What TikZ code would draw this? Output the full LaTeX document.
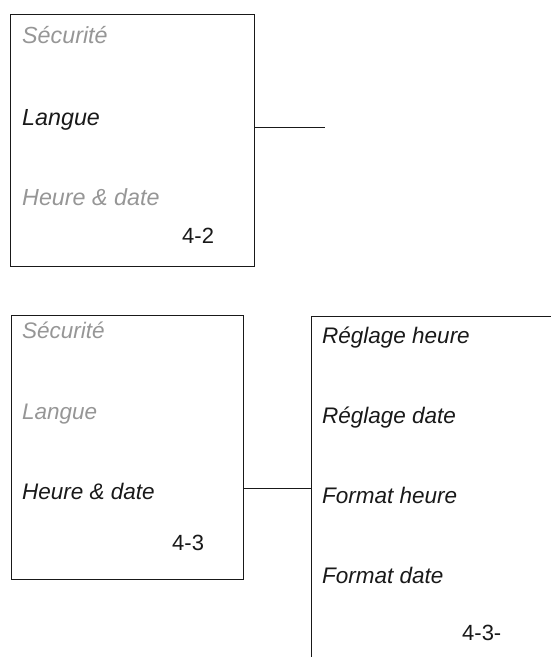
\documentclass[tikz,border=0pt]{standalone}
\usepackage{fontspec}
\setmainfont{Liberation Sans}
\definecolor{dim}{RGB}{150,150,150}
\definecolor{ink}{RGB}{25,25,25}
\tikzset{
  frame/.style={draw=ink, line width=0.9pt, inner sep=0pt},
  wire/.style={draw=ink, line width=0.9pt},
  item/.style={anchor=base west, inner sep=0pt, font=\fontsize{22.5}{27}\selectfont\itshape, text=ink},
  itemA/.style={item, font=\fontsize{23.3}{28}\selectfont\itshape},
  off/.style={text=dim},
  tag/.style={anchor=base west, inner sep=0pt, font=\fontsize{22}{26}\selectfont, text=ink}
}
\begin{document}
\begin{tikzpicture}[x=1pt,y=-1pt]
\useasboundingbox (0,0) rectangle (551,657);
% upper panel
\node[frame, minimum width=243.5pt, minimum height=252pt] (box1) at (132.25,140.5) {};
\node[itemA, off] (s1) at (22,43.5) {Sécurité};
\node[itemA] (l1) at (22,125) {Langue};
\node[itemA, off] (h1) at (22,205) {Heure \& date};
\node[tag] (n1) at (182,243.5) {4-2};
\coordinate (e1) at (325,127);
\draw[wire] (box1.east |- e1) -- (e1);
% lower panel
\node[frame, minimum width=232pt, minimum height=264pt] (box2) at (127,447) {};
\node[item, off] (s2) at (22,338) {Sécurité};
\node[item, off] (l2) at (22,419) {Langue};
\node[item] (h2) at (22,499) {Heure \& date};
\node[tag] (n2) at (172,550) {4-3};
% right (clipped) panel
\coordinate (rt) at (551,316);
\coordinate (rc) at (311,316);
\coordinate (rb) at (311,657);
\draw[wire] (rt) -- (rc) -- (rb);
\coordinate (e2) at (311,488);
\draw[wire] (box2.east |- e2) -- (e2);
\node[item] (r1) at (322,343) {Réglage heure};
\node[item] (r2) at (322,423) {Réglage date};
\node[item] (r3) at (322,503) {Format heure};
\node[item] (r4) at (322,583) {Format date};
\node[tag] (n3) at (462,640) {4-3-};
\end{tikzpicture}
\end{document}
